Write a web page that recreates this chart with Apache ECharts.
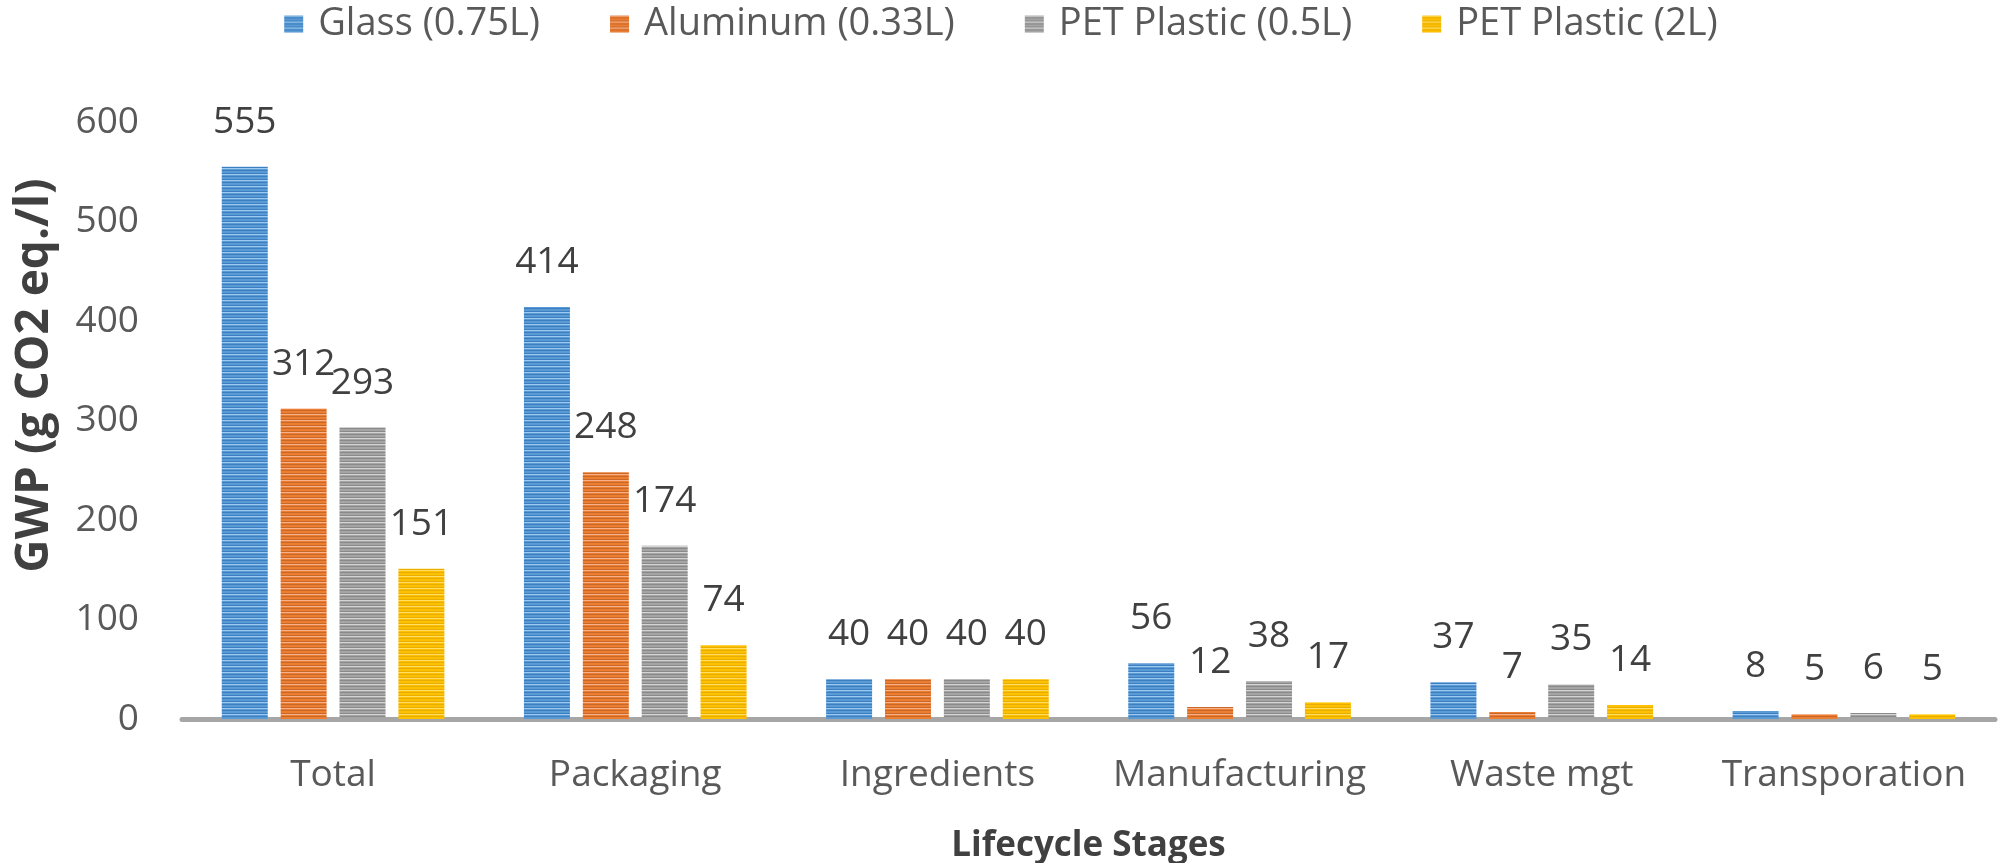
<!DOCTYPE html>
<html>
<head>
<meta charset="utf-8">
<script src="https://cdn.jsdelivr.net/npm/echarts@6/dist/echarts.min.js"></script>
<style>
html,body{margin:0;padding:0;background:#fff;}
#main{width:2002px;height:863px;}
</style>
</head>
<body>
<div id="main"></div>
<script>
const categories = ['Total', 'Packaging', 'Ingredients', 'Manufacturing', 'Waste mgt', 'Transporation'];
const seriesNames = ['Glass (0.75L)', 'Aluminum (0.33L)', 'PET Plastic (0.5L)', 'PET Plastic (2L)'];
const glass = [555, 414, 40, 56, 37, 8];
const aluminum = [312, 248, 40, 12, 7, 5];
const petSmall = [293, 174, 40, 38, 35, 6];
const petLarge = [151, 74, 40, 17, 14, 5];
const yMin = 0, yMax = 600, yStep = 100;

const palettes = [
  {base: '#5b9bd5', light: '#9dc8ef', dark: '#3b7fc0'},
  {base: '#ed7d31', light: '#f6b08a', dark: '#c8692a'},
  {base: '#a5a5a5', light: '#d4d4d4', dark: '#8a8a8a'},
  {base: '#ffc000', light: '#ffdd66', dark: '#e8ae00'}
];

function stripe(p) {
  const c = document.createElement('canvas');
  c.width = 8; c.height = 6;
  const ctx = c.getContext('2d');
  const rows = [p.light, p.base, p.dark, p.base, p.base, p.dark];
  rows.forEach((col, i) => { ctx.fillStyle = col; ctx.fillRect(0, i, 8, 1); });
  return {image: c, repeat: 'repeat'};
}

const font = 'Open Sans';
const dataSets = [glass, aluminum, petSmall, petLarge];
const patterns = palettes.map(stripe);

const chart = echarts.init(document.getElementById('main'));
chart.setOption({
  animation: false,
  legend: {
    top: 0, left: 'center', icon: 'rect',
    itemWidth: 19, itemHeight: 17, itemGap: 70,
    textStyle: {fontFamily: font, fontSize: 38, color: '#595959', padding: [0, 0, 0, 10]},
    data: seriesNames.map((n, i) => ({name: n, itemStyle: {color: patterns[i]}}))
  },
  grid: {left: 182, right: 7, top: 122, bottom: 144, outerBoundsMode: 'none', containLabel: false},
  xAxis: {
    type: 'category', data: categories,
    axisLine: {lineStyle: {color: '#a6a6a6', width: 5}},
    axisTick: {show: false},
    axisLabel: {interval: 0, fontFamily: font, fontSize: 37, color: '#595959', margin: 38},
    name: 'Lifecycle Stages', nameLocation: 'middle', nameGap: 110,
    nameTextStyle: {fontFamily: font, fontWeight: 'bold', fontSize: 35, color: '#404040'}
  },
  yAxis: {
    type: 'value', min: yMin, max: yMax, interval: yStep,
    splitLine: {show: false}, axisLine: {show: false}, axisTick: {show: false},
    axisLabel: {fontFamily: font, fontSize: 37, color: '#595959', margin: 43},
    name: 'GWP (g CO2 eq./l)', nameLocation: 'middle', nameGap: 124,
    nameTextStyle: {fontFamily: font, fontWeight: 'bold', fontSize: 46, color: '#404040', padding: [0, 0, 0, 90]}
  },
  series: seriesNames.map((n, i) => ({
    name: n, type: 'bar', data: dataSets[i],
    barWidth: 46, barGap: '28%',
    itemStyle: {color: patterns[i]},
    label: {show: true, position: 'top', distance: 26, fontFamily: font, fontSize: 37, color: '#404040'}
  }))
});
</script>
</body>
</html>
